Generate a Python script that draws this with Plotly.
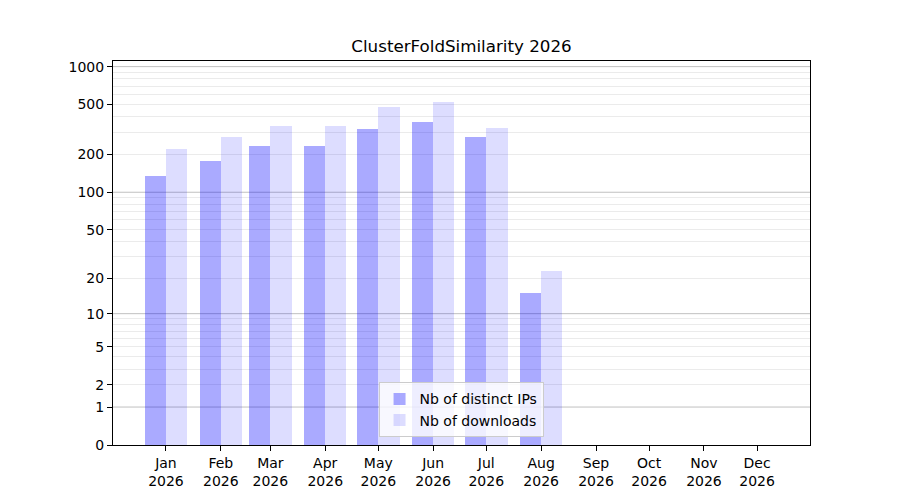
import numpy as np
import plotly.graph_objects as go

# data
months = ["2026-01-01", "2026-02-01", "2026-03-01", "2026-04-01",
          "2026-05-01", "2026-06-01", "2026-07-01", "2026-08-01",
          "2026-09-01", "2026-10-01", "2026-11-01", "2026-12-01"]
month_labels = ["Jan<br>2026", "Feb<br>2026", "Mar<br>2026", "Apr<br>2026",
                "May<br>2026", "Jun<br>2026", "Jul<br>2026", "Aug<br>2026",
                "Sep<br>2026", "Oct<br>2026", "Nov<br>2026", "Dec<br>2026"]
distinct_ips = [134, 177, 233, 233, 319, 363, 275, 15, 0, 0, 0, 0]
downloads = [221, 275, 336, 336, 477, 523, 325, 23, 0, 0, 0, 0]

y_ticks = [0, 1, 2, 5, 10, 20, 50, 100, 200, 500, 1000]
major_grid = [1, 10, 100, 1000]
minor_grid = [m * 10 ** k for k in range(3) for m in range(2, 10)]


def scale(v):
    # y axis is log10(1 + x)
    return np.log10(1 + np.asarray(v, dtype=float))


day_ms = 86400000
bar_w = 12 * day_ms

fig = go.Figure()
fig.add_trace(go.Bar(x=months, y=scale(distinct_ips), name="Nb of distinct IPs",
                     width=bar_w, offset=-bar_w,
                     marker=dict(color="rgba(0,0,255,0.333)", line=dict(width=0)),
                     customdata=distinct_ips,
                     hovertemplate="%{customdata}<extra></extra>"))
fig.add_trace(go.Bar(x=months, y=scale(downloads), name="Nb of downloads",
                     width=bar_w, offset=0,
                     marker=dict(color="rgba(0,0,255,0.135)", line=dict(width=0)),
                     customdata=downloads,
                     hovertemplate="%{customdata}<extra></extra>"))

for v in major_grid:
    fig.add_shape(type="line", xref="paper", x0=0, x1=1, yref="y",
                  y0=float(scale(v)), y1=float(scale(v)),
                  line=dict(color="#c0c0c0", width=1), layer="below")

font = "DejaVu Sans, Liberation Sans, sans-serif"
# the page body adds an 8px offset, margins compensate for it
fig.update_layout(
    width=900, height=500,
    margin=dict(l=105, r=98, t=53, b=63),
    paper_bgcolor="white", plot_bgcolor="white",
    font=dict(family=font, size=14, color="black"),
    title=dict(text="ClusterFoldSimilarity 2026", x=0.5, xref="paper",
               xanchor="center", y=0.912, yanchor="bottom",
               font=dict(size=16.7, color="black")),
    barmode="overlay",
    bargap=0,
    showlegend=True,
    legend=dict(x=0.381, y=0.02, xanchor="left", yanchor="bottom",
                bgcolor="rgba(255,255,255,0.8)", bordercolor="#cccccc",
                borderwidth=1, font=dict(size=14), itemwidth=30,
                tracegroupgap=0),
)
fig.update_xaxes(
    type="date", range=["2025-12-02 02:00", "2026-12-30 22:00"],
    tickvals=months, ticktext=month_labels,
    ticks="outside", ticklen=5, tickcolor="black",
    showgrid=False, zeroline=False,
    showline=True, linecolor="black", linewidth=1, mirror=True,
)
fig.update_yaxes(
    range=[0, 3.045],
    tickvals=list(scale(y_ticks)), ticktext=[str(t) for t in y_ticks],
    ticks="outside", ticklen=5, tickcolor="black",
    showgrid=False, zeroline=False,
    showline=True, linecolor="black", linewidth=1, mirror=True,
    minor=dict(tickvals=list(scale(minor_grid)), showgrid=True,
               gridcolor="#ebebeb", gridwidth=1, ticks=""),
)

fig.write_html("out.html")
